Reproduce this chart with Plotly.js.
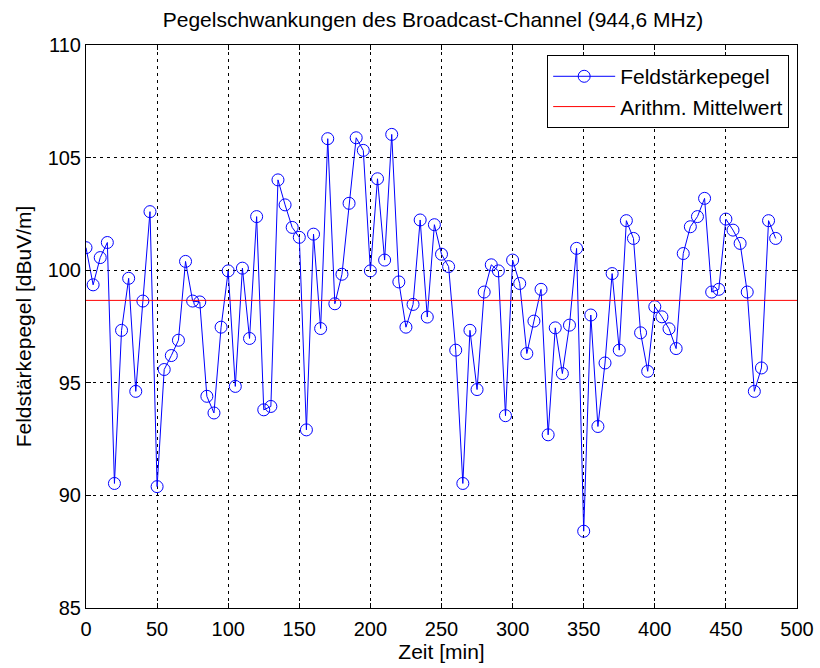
<!DOCTYPE html>
<html>
<head>
<meta charset="utf-8">
<script src="https://cdn.plot.ly/plotly-3.0.1.min.js"></script>
<style>html,body{margin:0;padding:0;background:#fff;}#chart{width:820px;height:668px;}</style>
</head>
<body>
<div id="chart"></div>
<script>
const zeit = [0,5,10,15,20,25,30,35,40,45,50,55,60,65,70,75,80,85,90,95,
  100,105,110,115,120,125,130,135,140,145,150,155,160,165,170,175,180,185,190,195,
  200,205,210,215,220,225,230,235,240,245,250,255,260,265,270,275,280,285,290,295,
  300,305,310,315,320,325,330,335,340,345,350,355,360,365,370,375,380,385,390,395,
  400,405,410,415,420,425,430,435,440,445,450,455,460,465,470,475,480,485];
const pegel = [101.0,99.35,100.56,101.23,90.53,97.33,99.64,94.62,98.63,102.6,
  90.39,95.59,96.21,96.89,100.39,98.63,98.59,94.40,93.66,97.47,
  99.97,94.84,100.09,96.97,102.38,93.8,93.95,104.01,102.9,101.9,
  101.46,92.91,101.6,97.41,105.84,98.51,99.82,102.97,105.88,105.32,
  99.97,104.06,100.45,106.03,99.48,97.47,98.48,102.23,97.92,102.02,
  100.71,100.16,96.45,90.53,97.33,94.70,99.03,100.24,99.97,93.54,
  100.45,99.41,96.30,97.74,99.15,92.69,97.44,95.41,97.56,100.97,
  88.41,98.01,93.06,95.88,99.85,96.45,102.2,101.41,97.22,95.51,
  98.38,97.93,97.40,96.52,100.74,101.93,102.38,103.19,99.03,99.15,
  102.27,101.78,101.19,99.03,94.62,95.66,102.2,101.41];
const mittelX = [0, 500];
const mittelY = [98.66, 98.66];
const xTicks = [0,50,100,150,200,250,300,350,400,450,500];
const yTicks = [85,90,95,100,105,110];

const FONT = 'Liberation Sans, Arial, sans-serif';
const traces = [
  {x: zeit, y: pegel, type: 'scatter', mode: 'lines+markers', name: 'Feldstärkepegel',
   line: {color: '#0000ff', width: 1},
   marker: {symbol: 'circle-open', size: 12, color: '#0000ff', line: {width: 1, color: '#0000ff'}}},
  {x: mittelX, y: mittelY, type: 'scatter', mode: 'lines', name: 'Arithm. Mittelwert',
   line: {color: '#ff0000', width: 1}}
];
const axisCommon = {
  showline: true, linecolor: '#000', linewidth: 1, mirror: 'ticks',
  ticks: 'inside', ticklen: 5, tickcolor: '#000',
  showgrid: true, gridcolor: '#000', gridwidth: 1, griddash: '3px,4px',
  zeroline: false, tickfont: {family: FONT, size: 20, color: '#000'}
};
const layout = {
  width: 820, height: 668,
  margin: {l: 86, r: 23, t: 45, b: 60},
  paper_bgcolor: '#fff', plot_bgcolor: '#fff',
  showlegend: true,
  title: {text: 'Pegelschwankungen des Broadcast-Channel (944,6 MHz)',
    font: {family: FONT, size: 21, color: '#000'}, x: 0.528, xanchor: 'center', y: 0.97, yanchor: 'middle'},
  xaxis: Object.assign({}, axisCommon, {range: [0, 500], tickvals: xTicks, ticklabelstandoff: 3,
    title: {text: 'Zeit [min]', font: {family: FONT, size: 21, color: '#000'}, standoff: 2}}),
  yaxis: Object.assign({}, axisCommon, {range: [85, 110], tickvals: yTicks,
    title: {text: 'Feldstärkepegel [dBuV/m]', font: {family: FONT, size: 21, color: '#000'}, standoff: 10}}),
  legend: {x: 0.989, xanchor: 'right', y: 0.982, yanchor: 'top',
    bgcolor: '#fff', bordercolor: '#000', borderwidth: 1,
    font: {family: FONT, size: 21, color: '#000'}, itemwidth: 62, tracegroupgap: 0}
};
Plotly.newPlot('chart', traces, layout, {staticPlot: true});
</script>
</body>
</html>
